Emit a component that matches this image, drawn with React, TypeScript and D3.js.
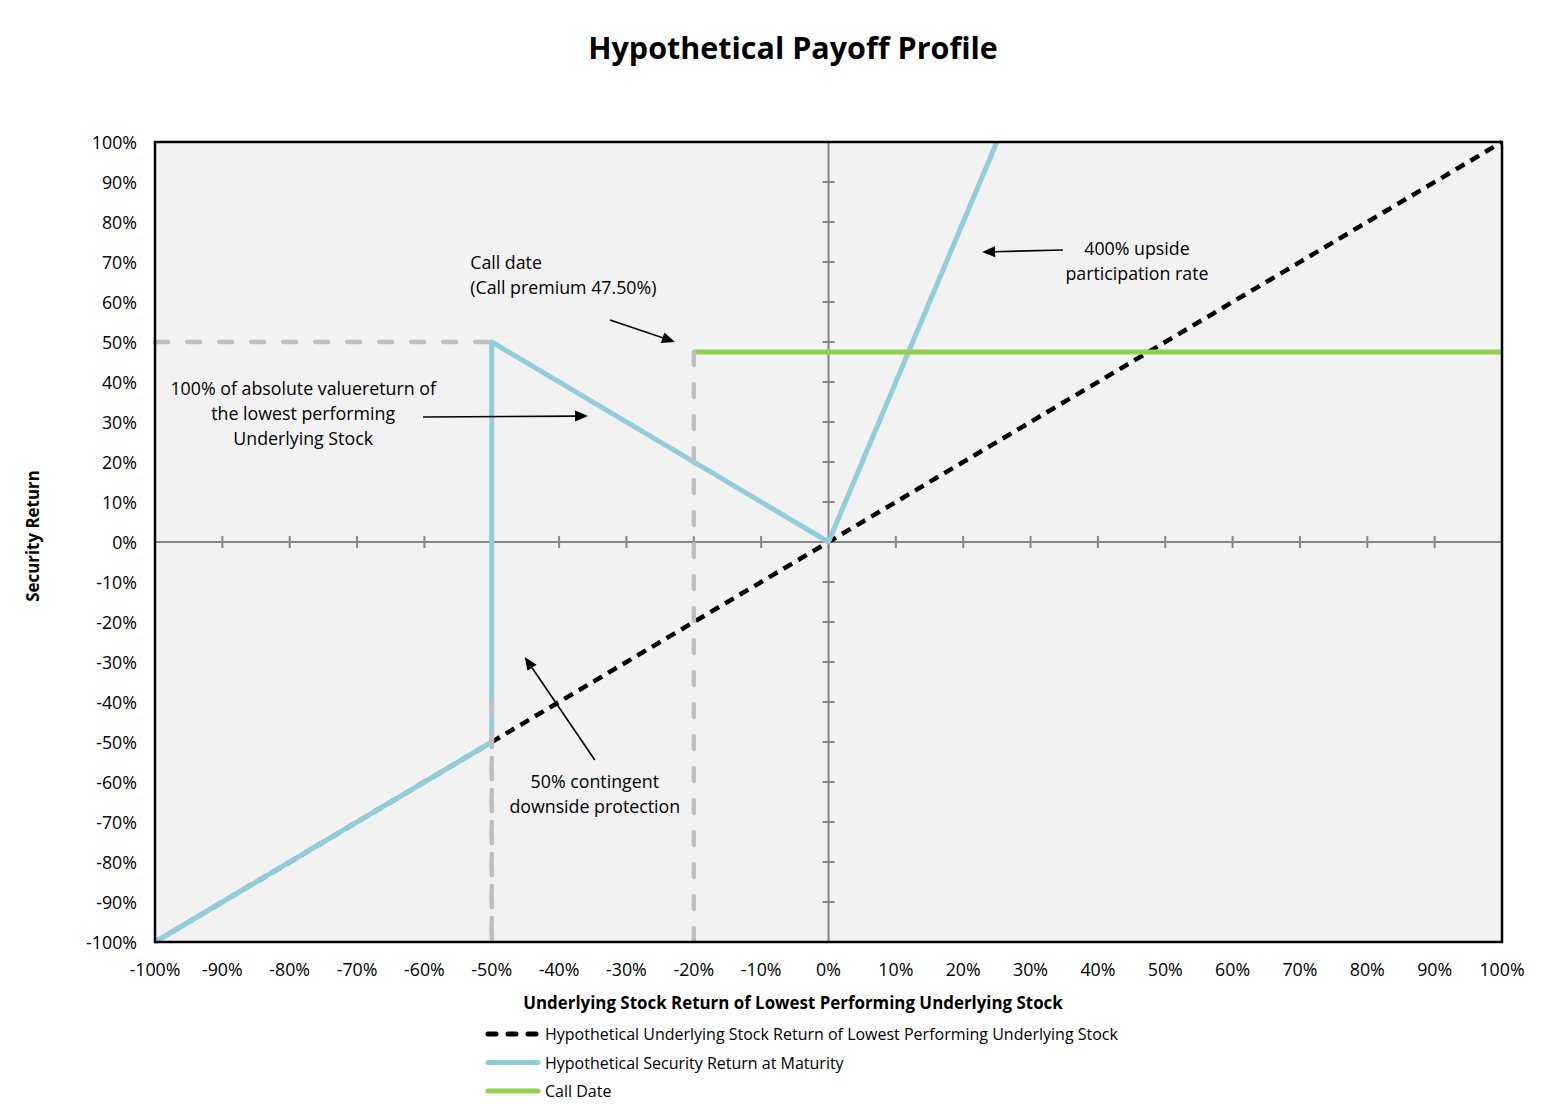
import React from 'react';
import * as d3 from 'd3';

const W = 1560;
const H = 1106;

const xTickValues = [-1, -0.9, -0.8, -0.7, -0.6, -0.5, -0.4, -0.3, -0.2, -0.1, 0, 0.1, 0.2, 0.3, 0.4, 0.5, 0.6, 0.7, 0.8, 0.9, 1];
const yTickValues = [-1, -0.9, -0.8, -0.7, -0.6, -0.5, -0.4, -0.3, -0.2, -0.1, 0, 0.1, 0.2, 0.3, 0.4, 0.5, 0.6, 0.7, 0.8, 0.9, 1];

const underlyingX = [-1, 1];
const underlyingY = [-1, 1];

const securityX = [-1, -0.5, -0.5, 0, 0.25];
const securityY = [-1, -0.5, 0.5, 0, 1];

const callX = [-0.2, 1];
const callY = [0.475, 0.475];

const guideLinesUnder = [
  { x: [-1, -0.5], y: [0.5, 0.5] },
  { x: [-0.5, -0.5], y: [0.5, -1] },
];
const guideLinesOver = [
  { x: [-0.5, -0.5], y: [-0.4, -1] },
  { x: [-0.2, -0.2], y: [0.475, -1] },
];

const annotations = [
  { lines: ['Call date', '(Call premium 47.50%)'], x: -0.532, y: [0.70, 0.6375], anchor: 'start' },
  { lines: ['100% of absolute valuereturn of', 'the lowest performing', 'Underlying Stock'], x: -0.78, y: [0.385, 0.3225, 0.26], anchor: 'middle' },
  { lines: ['400% upside', 'participation rate'], x: 0.458, y: [0.735, 0.6725], anchor: 'middle' },
  { lines: ['50% contingent', 'downside protection'], x: -0.347, y: [-0.5975, -0.66], anchor: 'middle' },
];

const arrows = [
  { from: [-0.3244, 0.555], to: [-0.228, 0.5] },
  { from: [-0.602, 0.3125], to: [-0.357, 0.315] },
  { from: [0.348, 0.73], to: [0.228, 0.725] },
  { from: [-0.347, -0.545], to: [-0.451, -0.2875] },
];

const legendItems = [
  { label: 'Hypothetical Underlying Stock Return of Lowest Performing Underlying Stock', color: '#000000', dash: '8 12' },
  { label: 'Hypothetical Security Return at Maturity', color: '#92cddc', dash: '' },
  { label: 'Call Date', color: '#92d050', dash: '' },
];

const FONT = '"Open Sans", Lato, "Liberation Sans", sans-serif';

export default function App() {
  const left = 155, right = 1502, top = 142, bottom = 942;
  const x = d3.scaleLinear().domain([-1, 1]).range([left, right]);
  const y = d3.scaleLinear().domain([-1, 1]).range([bottom, top]);
  const line = d3.line<[number, number]>().x(d => x(d[0])).y(d => y(d[1]));
  const zip = (a: number[], b: number[]) => a.map((v, i) => [v, b[i]] as [number, number]);
  const pct = (v: number) => `${Math.round(v * 100)}%`;
  const x0 = x(0), y0 = y(0);

  const arrowEls = arrows.map((a, i) => {
    const x1 = x(a.from[0]), y1 = y(a.from[1]);
    const x2 = x(a.to[0]), y2 = y(a.to[1]);
    const ang = Math.atan2(y2 - y1, x2 - x1);
    const len = 13, half = 5.5;
    const bx = x2 - len * Math.cos(ang), by = y2 - len * Math.sin(ang);
    const px = -Math.sin(ang) * half, py = Math.cos(ang) * half;
    return (
      <g key={i}>
        <line x1={x1} y1={y1} x2={bx} y2={by} stroke="#000" strokeWidth={1.6} />
        <path d={`M${x2},${y2}L${bx + px},${by + py}L${bx - px},${by - py}Z`} fill="#000" />
      </g>
    );
  });

  const guide = (g: { x: number[]; y: number[] }, i: number, k: string) => (
    <path key={k + i} d={line(zip(g.x, g.y)) || ''} fill="none" stroke="#bfbfbf" strokeWidth={4.5} strokeDasharray="13 19" strokeLinecap="round" />
  );

  return (
    <svg width={W} height={H} style={{ position: 'absolute', left: 0, top: 0, background: '#fff' }} fontFamily={FONT}>
      <text x={793} y={47} textAnchor="middle" dominantBaseline="central" fontSize={30.5} fontWeight="bold" fill="#000">Hypothetical Payoff Profile</text>

      <rect x={left} y={top} width={right - left} height={bottom - top} fill="#f2f2f2" />

      {/* center axes */}
      <line x1={left} x2={right} y1={y0} y2={y0} stroke="#868686" strokeWidth={2} />
      <line x1={x0} x2={x0} y1={top} y2={bottom} stroke="#868686" strokeWidth={2} />
      {xTickValues.map(v => (
        <line key={'xt' + v} x1={x(v)} x2={x(v)} y1={y0 - 6} y2={y0 + 6} stroke="#868686" strokeWidth={2} />
      ))}
      {yTickValues.map(v => (
        <line key={'yt' + v} x1={x0 - 6} x2={x0 + 6} y1={y(v)} y2={y(v)} stroke="#868686" strokeWidth={2} />
      ))}

      {/* series */}
      {guideLinesUnder.map((g, i) => guide(g, i, 'gu'))}
      <path d={line(zip(underlyingX, underlyingY)) || ''} fill="none" stroke="#000" strokeWidth={4.5} strokeDasharray="10 7" />
      <path d={line(zip(securityX, securityY)) || ''} fill="none" stroke="#92cddc" strokeWidth={5} strokeLinejoin="round" />
      <path d={line(zip(callX, callY)) || ''} fill="none" stroke="#92d050" strokeWidth={5} />
      {guideLinesOver.map((g, i) => guide(g, i, 'go'))}

      {/* border */}
      <rect x={left} y={top} width={right - left} height={bottom - top} fill="none" stroke="#000" strokeWidth={2.5} />

      {/* tick labels */}
      {yTickValues.map(v => (
        <text key={'yl' + v} x={137} y={y(v)} textAnchor="end" dominantBaseline="central" fontSize={17.8} fill="#000">{pct(v)}</text>
      ))}
      {xTickValues.map(v => (
        <text key={'xl' + v} x={x(v)} y={969} textAnchor="middle" dominantBaseline="central" fontSize={17.8} fill="#000">{pct(v)}</text>
      ))}

      <text x={793} y={1002} textAnchor="middle" dominantBaseline="central" fontSize={16.9} fontWeight="bold" fill="#000">Underlying Stock Return of Lowest Performing Underlying Stock</text>
      <text transform={`translate(32,536) rotate(-90)`} textAnchor="middle" dominantBaseline="central" fontSize={16.9} fontWeight="bold" fill="#000">Security Return</text>

      {/* annotations */}
      {annotations.map((a, i) => (
        <g key={i}>
          {a.lines.map((t, j) => (
            <text key={j} x={x(a.x)} y={y(a.y[j])} textAnchor={a.anchor as any} dominantBaseline="central" fontSize={17.8} fill="#000">{t}</text>
          ))}
        </g>
      ))}
      {arrowEls}

      {/* legend */}
      {legendItems.map((it, i) => {
        const ly = 1034 + i * 28.5;
        return (
          <g key={i}>
            <line x1={488} x2={538} y1={ly} y2={ly} stroke={it.color} strokeWidth={5} strokeDasharray={it.dash} strokeLinecap="round" />
            <text x={545} y={ly} dominantBaseline="central" fontSize={16} fill="#000">{it.label}</text>
          </g>
        );
      })}
    </svg>
  );
}
